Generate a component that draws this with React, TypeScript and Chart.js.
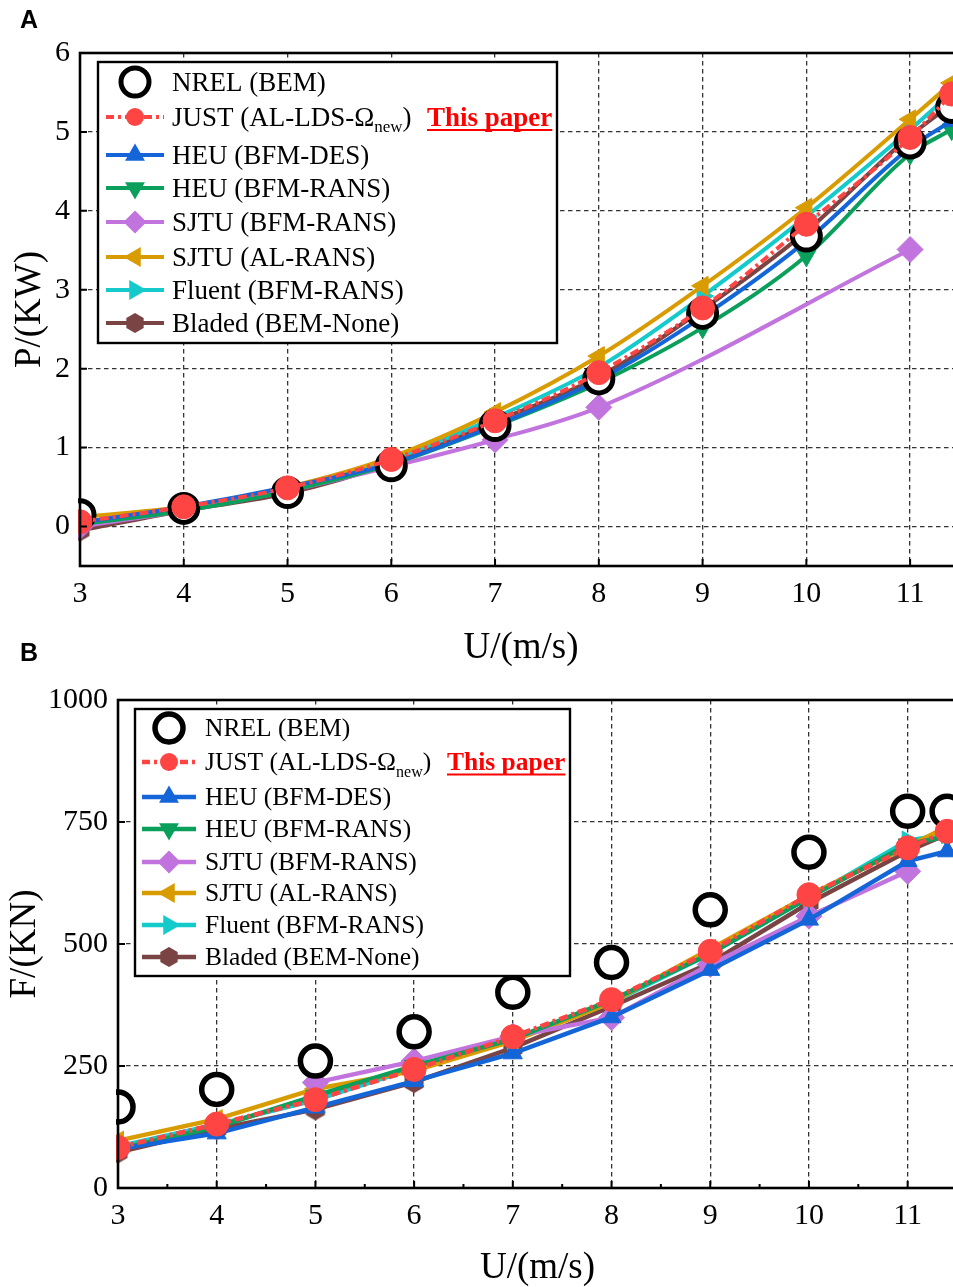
import React, { useEffect, useRef } from "react";
import { Chart, registerables } from "chart.js";

Chart.register(...registerables);

// ---------------- data ----------------
const windSpeeds = [3, 4, 5, 6, 7, 8, 9, 10, 11, 11.4];
const xTickValues = [3, 4, 5, 6, 7, 8, 9, 10, 11];
const xMinorTickValues = [3.5, 4.5, 5.5, 6.5, 7.5, 8.5, 9.5, 10.5, 11.5];
const powerTickValues = [0, 1, 2, 3, 4, 5, 6];
const thrustTickValues = [0, 250, 500, 750, 1000];

const seriesLabels = [
  "NREL (BEM)",
  "JUST (AL-LDS-Ωnew)",
  "HEU (BFM-DES)",
  "HEU (BFM-RANS)",
  "SJTU (BFM-RANS)",
  "SJTU (AL-RANS)",
  "Fluent (BFM-RANS)",
  "Bladed (BEM-None)",
];
const justLabelMain = "JUST (AL-LDS-Ω";
const justLabelSub = "new";
const justLabelTail = ")";
const thisPaperText = "This paper";

// Panel A: power P/(KW)
const powerNREL = [0.15, 0.23, 0.43, 0.77, 1.28, 1.87, 2.7, 3.68, 4.86, 5.31];
const powerJUST = [0.06, 0.25, 0.49, 0.85, 1.34, 1.95, 2.77, 3.83, 4.93, 5.48];
const powerHEUDES = [0.05, 0.25, 0.5, 0.8, 1.28, 1.86, 2.66, 3.62, 4.8, 5.14];
const powerHEURANS = [0.03, 0.2, 0.45, 0.79, 1.27, 1.82, 2.52, 3.43, 4.72, 5.03];
const powerSJTUBFM = [0.0, 0.2, 0.45, 0.76, 1.1, 1.51, null, null, 3.51, null];
const powerSJTUAL = [0.12, 0.25, 0.5, 0.88, 1.45, 2.16, 3.05, 4.04, 5.16, 5.62];
const powerFluent = [0.05, 0.23, 0.47, 0.85, 1.38, 2.02, 2.92, 3.93, 5.03, 5.5];
const powerBladed = [-0.05, 0.2, 0.42, 0.8, 1.33, 1.9, 2.75, 3.74, 4.95, 5.35];

// Panel B: thrust F/(KN)
const thrustNREL = [166, 202, 260, 320, 401, 462, 570, 688, 772, 772];
const thrustJUST = [83, 131, 181, 243, 310, 386, 485, 601, 697, 731];
const thrustHEUDES = [80, 112, 165, 219, 276, 350, 447, 550, 670, 690];
const thrustHEURANS = [80, 125, 189, 250, 305, 385, 480, 595, 704, 721];
const thrustSJTUBFM = [null, null, 216, 260, 311, 349, 458, 557, 649, null];
const thrustSJTUAL = [97, 141, 203, 240, 301, 380, 490, 600, 700, 740];
const thrustFluent = [85, 130, 180, 245, 303, 380, 480, 595, 712, 725];
const thrustBladed = [73, 121, 161, 217, 287, 372, 461, 584, 690, 725];

// ---------------- styles ----------------
type SeriesStyle = { color: string; shape: string; rot: number; dash?: number[] };
const seriesStyles: SeriesStyle[] = [
  { color: "#000000", shape: "ring", rot: 0 },
  { color: "#FF4444", shape: "circle", rot: 0, dash: [9, 4, 3, 4] },
  { color: "#1466D8", shape: "triangle", rot: 0 },
  { color: "#0AA05C", shape: "triangle", rot: 180 },
  { color: "#C274DE", shape: "diamond", rot: 0 },
  { color: "#D99C00", shape: "triangle", rot: 270 },
  { color: "#14CACA", shape: "triangle", rot: 90 },
  { color: "#7A4444", shape: "hex", rot: 0 },
];

const SERIF = "'Liberation Serif', 'Times New Roman', serif";

type LegendCfg = {
  box: [number, number, number, number];
  rows: number[];
  lineX: [number, number];
  markerX: number;
  textX: number;
  paperX: number;
  font: number;
  markR: number;
  ringR: number;
};

type PanelCfg = {
  values: (number | null)[][];
  yMin: number;
  yMax: number;
  yTicks: number[];
  xMin: number;
  xMax: number;
  smooth: boolean;
  xTitle: string;
  yTitle: string;
  width: number;
  height: number;
  top: number;
  pad: { left: number; top: number; right: number };
  yAxisWidth: number;
  xAxisHeight: number;
  minorX: number[];
  ringR: number;
  ringW: number;
  markR: number;
  redR: number;
  diamondR: number;
  lineW: number;
  legend: LegendCfg;
};

function polyPath(g: CanvasRenderingContext2D, cx: number, cy: number, r: number, n: number, startDeg: number) {
  g.beginPath();
  for (let k = 0; k < n; k++) {
    const a = ((startDeg + (k * 360) / n) * Math.PI) / 180;
    const px = cx + Math.sin(a) * r;
    const py = cy - Math.cos(a) * r;
    if (k === 0) g.moveTo(px, py);
    else g.lineTo(px, py);
  }
  g.closePath();
}

function hexCanvas(color: string, r: number) {
  const c = document.createElement("canvas");
  const s = Math.ceil(r * 2 + 2);
  c.width = s;
  c.height = s;
  const g = c.getContext("2d")!;
  g.fillStyle = color;
  polyPath(g, s / 2, s / 2, r, 6, 0);
  g.fill();
  return c;
}

function drawMarker(g: CanvasRenderingContext2D, st: SeriesStyle, x: number, y: number, r: number, ringW: number) {
  g.save();
  g.setLineDash([]);
  if (st.shape === "ring") {
    g.beginPath();
    g.arc(x, y, r, 0, Math.PI * 2);
    g.fillStyle = "#fff";
    g.fill();
    g.lineWidth = ringW;
    g.strokeStyle = "#000";
    g.stroke();
  } else {
    g.fillStyle = st.color;
    if (st.shape === "circle") {
      g.beginPath();
      g.arc(x, y, r, 0, Math.PI * 2);
    } else if (st.shape === "triangle") {
      polyPath(g, x, y, r * 1.15, 3, st.rot);
    } else if (st.shape === "diamond") {
      polyPath(g, x, y, r * 1.15, 4, 0);
    } else {
      polyPath(g, x, y, r, 6, 0);
    }
    g.fill();
  }
  g.restore();
}

function drawLegend(g: CanvasRenderingContext2D, L: LegendCfg, lineW: number, ringW: number) {
  const [l, t, r, b] = L.box;
  g.save();
  g.setLineDash([]);
  g.fillStyle = "#fff";
  g.fillRect(l, t, r - l, b - t);
  g.lineWidth = 2.4;
  g.strokeStyle = "#000";
  g.strokeRect(l, t, r - l, b - t);

  seriesStyles.forEach((st, i) => {
    const y = L.rows[i];
    if (st.shape !== "ring") {
      g.save();
      g.strokeStyle = st.color;
      g.lineWidth = lineW;
      g.setLineDash(st.dash ? [8, 4, 3, 4] : []);
      g.beginPath();
      g.moveTo(L.lineX[0], y);
      g.lineTo(L.lineX[1], y);
      g.stroke();
      g.restore();
    }
    const rr = st.shape === "ring" ? L.ringR : st.shape === "circle" ? L.markR - 1 : L.markR;
    drawMarker(g, st, L.markerX, y, rr, ringW);

    const base = y + L.font * 0.33;
    g.fillStyle = "#000";
    g.textBaseline = "alphabetic";
    g.textAlign = "left";
    g.font = `${L.font}px ${SERIF}`;
    if (i === 1) {
      g.fillText(justLabelMain, L.textX, base);
      let x = L.textX + g.measureText(justLabelMain).width;
      g.font = `${Math.round(L.font * 0.64)}px ${SERIF}`;
      g.fillText(justLabelSub, x, base + L.font * 0.24);
      x += g.measureText(justLabelSub).width;
      g.font = `${L.font}px ${SERIF}`;
      g.fillText(justLabelTail, x, base);
      g.font = `bold ${L.font}px ${SERIF}`;
      g.fillStyle = "#FF0000";
      g.fillText(thisPaperText, L.paperX, base);
      const w = g.measureText(thisPaperText).width;
      g.strokeStyle = "#FF0000";
      g.lineWidth = 2;
      g.beginPath();
      g.moveTo(L.paperX, base + 4);
      g.lineTo(L.paperX + w, base + 4);
      g.stroke();
    } else {
      g.fillText(seriesLabels[i], L.textX, base);
    }
  });
  g.restore();
}

function makeDecor(p: PanelCfg) {
  return {
    id: "decor",
    afterDatasetsDraw(chart: any) {
      const { ctx, chartArea: ca, scales } = chart;
      const xs = scales.x;
      const ys = scales.y;
      ctx.save();
      ctx.setLineDash([]);
      ctx.strokeStyle = "#000";
      ctx.lineWidth = 2;
      ctx.beginPath();
      for (const v of xTickValues) {
        const px = xs.getPixelForValue(v);
        ctx.moveTo(px, ca.bottom);
        ctx.lineTo(px, ca.bottom - 7);
      }
      for (const v of p.minorX) {
        const px = xs.getPixelForValue(v);
        ctx.moveTo(px, ca.bottom);
        ctx.lineTo(px, ca.bottom - 4);
      }
      for (const v of p.yTicks) {
        const py = ys.getPixelForValue(v);
        ctx.moveTo(ca.left, py);
        ctx.lineTo(ca.left + 7, py);
      }
      ctx.stroke();
      ctx.lineWidth = 2.6;
      ctx.strokeRect(ca.left, ca.top, ca.right - ca.left, ca.bottom - ca.top);
      ctx.restore();
      drawLegend(ctx, p.legend, p.lineW, p.ringW);
    },
  };
}

function buildConfig(p: PanelCfg): any {
  const datasets = seriesStyles.map((st, i) => {
    const vals = p.values[i];
    const data = windSpeeds
      .map((x, j) => (vals[j] === null || vals[j] === undefined ? null : { x, y: vals[j] as number }))
      .filter((d) => d !== null);
    const isRing = st.shape === "ring";
    let pointStyle: any = "circle";
    let radius = p.markR;
    if (st.shape === "triangle") pointStyle = "triangle";
    if (st.shape === "diamond") {
      pointStyle = "rectRot";
      radius = p.diamondR;
    }
    if (st.shape === "hex") pointStyle = hexCanvas(st.color, p.markR);
    if (st.shape === "circle") radius = p.redR;
    if (isRing) radius = p.ringR;
    return {
      label: seriesLabels[i],
      data,
      order: i === 1 ? 0 : i === 0 ? 1 : 2 + i,
      showLine: !isRing,
      borderColor: st.color,
      backgroundColor: isRing ? "#ffffff" : st.color,
      borderWidth: isRing ? 0 : p.lineW,
      borderDash: st.dash || [],
      pointStyle,
      rotation: st.rot,
      pointRadius: radius,
      pointBorderWidth: isRing ? p.ringW : 1,
      pointBorderColor: st.color,
      pointBackgroundColor: isRing ? "#ffffff" : st.color,
      tension: p.smooth ? 0.4 : 0,
      cubicInterpolationMode: p.smooth ? "monotone" : "default",
      spanGaps: true,
      clip: 2,
    };
  });

  const tickFont = { family: SERIF, size: 30 };
  const titleFont = { family: SERIF, size: 37 };
  return {
    type: "line",
    data: { datasets },
    options: {
      responsive: false,
      animation: false,
      devicePixelRatio: 1,
      events: [],
      layout: { padding: { left: p.pad.left, top: p.pad.top, right: p.pad.right, bottom: 0 } },
      plugins: { legend: { display: false }, tooltip: { enabled: false } },
      scales: {
        x: {
          type: "linear",
          min: p.xMin,
          max: p.xMax,
          afterBuildTicks: (s: any) => {
            s.ticks = xTickValues.map((v) => ({ value: v }));
          },
          afterFit: (s: any) => {
            s.height = p.xAxisHeight;
          },
          grid: { color: "#333", lineWidth: 1.3, drawTicks: false },
          border: { display: false, dash: [4.5, 3.5] },
          ticks: {
            color: "#000",
            font: tickFont,
            padding: 10,
            maxRotation: 0,
            autoSkip: false,
            callback: (v: any) => String(v),
          },
          title: { display: true, text: p.xTitle, color: "#000", font: titleFont, padding: 0 },
        },
        y: {
          type: "linear",
          min: p.yMin,
          max: p.yMax,
          afterBuildTicks: (s: any) => {
            s.ticks = p.yTicks.map((v) => ({ value: v }));
          },
          afterFit: (s: any) => {
            s.width = p.yAxisWidth;
          },
          grid: { color: "#333", lineWidth: 1.3, drawTicks: false },
          border: { display: false, dash: [4.5, 3.5] },
          ticks: {
            color: "#000",
            font: tickFont,
            padding: 10,
            autoSkip: false,
            callback: (v: any) => String(v),
          },
          title: { display: true, text: p.yTitle, color: "#000", font: titleFont, padding: 0 },
        },
      },
    },
    plugins: [makeDecor(p)],
  };
}

const panelA: PanelCfg = {
  values: [powerNREL, powerJUST, powerHEUDES, powerHEURANS, powerSJTUBFM, powerSJTUAL, powerFluent, powerBladed],
  yMin: -0.5,
  yMax: 6,
  yTicks: powerTickValues,
  xMin: 3,
  xMax: 11.5,
  smooth: true,
  xTitle: "U/(m/s)",
  yTitle: "P/(KW)",
  width: 990,
  height: 670,
  top: 0,
  pad: { left: 8, top: 53, right: 28 },
  yAxisWidth: 72,
  xAxisHeight: 104,
  minorX: [],
  ringR: 14,
  ringW: 5,
  markR: 11,
  redR: 12,
  diamondR: 13,
  lineW: 4,
  legend: {
    box: [98, 62, 557, 343],
    rows: [82, 117, 155, 188, 222, 257, 290, 323],
    lineX: [106, 164],
    markerX: 135,
    textX: 172,
    paperX: 427,
    font: 27,
    markR: 10,
    ringR: 14,
  },
};

const panelB: PanelCfg = {
  values: [thrustNREL, thrustJUST, thrustHEUDES, thrustHEURANS, thrustSJTUBFM, thrustSJTUAL, thrustFluent, thrustBladed],
  yMin: 0,
  yMax: 1000,
  yTicks: thrustTickValues,
  xMin: 3,
  xMax: 11.5,
  smooth: false,
  xTitle: "U/(m/s)",
  yTitle: "F/(KN)",
  width: 990,
  height: 620,
  top: 670,
  pad: { left: 3, top: 30, right: 33 },
  yAxisWidth: 115,
  xAxisHeight: 102,
  minorX: xMinorTickValues,
  ringR: 15,
  ringW: 5.5,
  markR: 11,
  redR: 12,
  diamondR: 13,
  lineW: 4.5,
  legend: {
    box: [135, 39, 570, 306],
    rows: [58, 92, 127, 159, 192, 223, 255, 287],
    lineX: [142, 196],
    markerX: 169,
    textX: 205,
    paperX: 447,
    font: 25.5,
    markR: 10,
    ringR: 14,
  },
};

function PanelChart({ cfg }: { cfg: PanelCfg }) {
  const ref = useRef<HTMLCanvasElement | null>(null);
  useEffect(() => {
    if (!ref.current) return;
    const chart = new Chart(ref.current, buildConfig(cfg));
    return () => chart.destroy();
  }, [cfg]);
  return (
    <canvas
      ref={ref}
      width={cfg.width}
      height={cfg.height}
      style={{ position: "absolute", left: 0, top: cfg.top, width: cfg.width, height: cfg.height }}
    />
  );
}

const panelLabelStyle: React.CSSProperties = {
  position: "absolute",
  left: 20,
  fontFamily: "'Liberation Sans', Arial, sans-serif",
  fontWeight: "bold",
  fontSize: 25,
  lineHeight: "25px",
  color: "#000",
};

export default function App() {
  return (
    <div
      style={{
        position: "absolute",
        left: 0,
        top: 0,
        width: 953,
        height: 1287,
        overflow: "hidden",
        background: "#fff",
      }}
    >
      <PanelChart cfg={panelA} />
      <PanelChart cfg={panelB} />
      <div style={{ ...panelLabelStyle, top: 7 }}>A</div>
      <div style={{ ...panelLabelStyle, top: 640 }}>B</div>
    </div>
  );
}
